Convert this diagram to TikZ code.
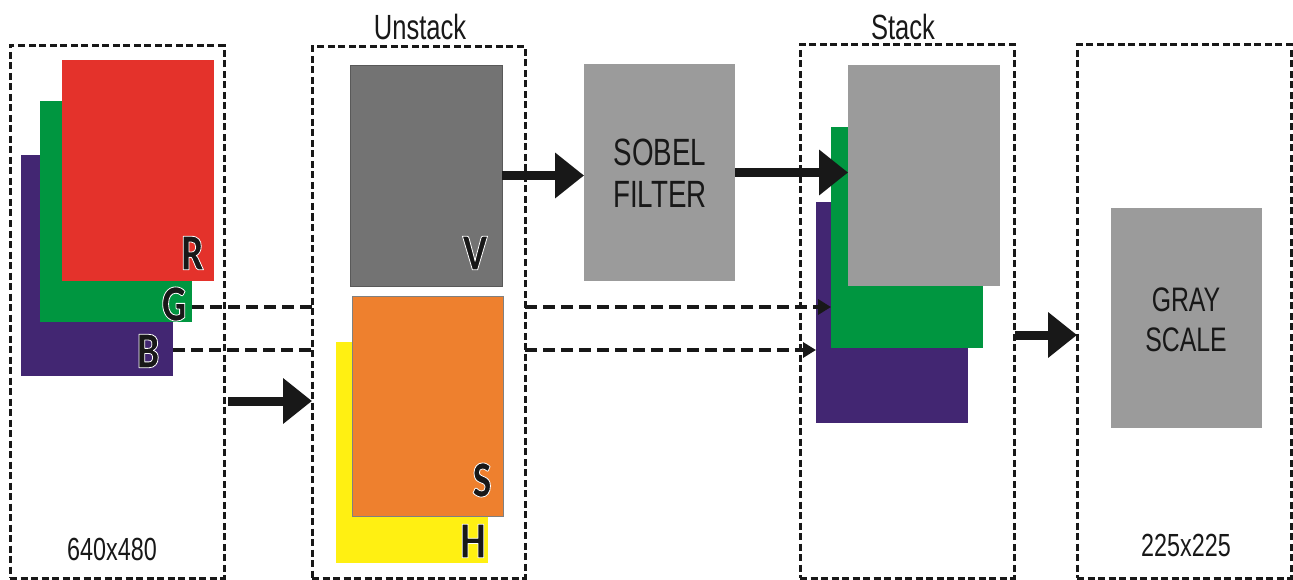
\documentclass[tikz,border=0pt]{standalone}
\usepackage{fontspec}
\setmainfont{Liberation Sans}
\newfontfamily\narrowfont[FakeStretch=0.73]{Liberation Sans}
\newfontfamily\letterfont[FakeStretch=0.74]{Lato Black}
\usetikzlibrary{arrows.meta}

\definecolor{chred}{RGB}{228,50,43}
\definecolor{chgreen}{RGB}{0,150,64}
\definecolor{chblue}{RGB}{66,38,114}
\definecolor{vgray}{RGB}{115,115,115}
\definecolor{lgray}{RGB}{155,155,155}
\definecolor{sorange}{RGB}{238,128,46}
\definecolor{hyellow}{RGB}{255,240,18}
\definecolor{ink}{RGB}{24,24,24}

% filled glyph stroked with a thin white contour (text render mode 2)
\newcommand\rimmed[1]{%
  \special{pdf:literal direct q 1 1 1 RG 0.8 w 1 j 2 Tr}#1\special{pdf:literal direct Q}}

\begin{document}
\begin{tikzpicture}[x=1pt,y=-1pt,
  plane/.style={rectangle, inner sep=0pt, outer sep=0pt, anchor=north west,
    minimum width=152pt, minimum height=221pt},
  frame/.style={rectangle, draw=ink, line width=3pt, dash pattern=on 7pt off 3.5pt,
    inner sep=0pt, outer sep=0pt, anchor=north west, minimum width=214pt, minimum height=532pt},
  caption/.style={font=\narrowfont\fontsize{35}{40}\selectfont, text=ink, inner sep=0pt},
  boxtext/.style={font=\narrowfont\fontsize{38}{42}\selectfont, text=ink, inner sep=0pt, align=center},
  sizetext/.style={font=\narrowfont\fontsize{32}{36}\selectfont, text=ink, inner sep=0pt},
  letter/.style={font=\letterfont\fontsize{46}{46}\selectfont, text=ink, inner sep=0pt},
  bigarrow/.style={draw=ink, line width=9pt, -{Triangle[length=29pt,width=44pt]}},
  dashline/.style={draw=ink, line width=3.5pt, dash pattern=on 12pt off 6pt},
  dasharrow/.style={dashline, -{Triangle[length=13pt,width=15pt]}}
]
\useasboundingbox (0,0) rectangle (1293,580);

% dashed stage frames
\node[frame] (inframe) at (10,46) {};
\node[frame, minimum width=213pt, minimum height=531pt] (unstackframe) at (312,47) {};
\node[frame, minimum height=533pt] (stackframe) at (800,45) {};
\node[frame, minimum height=533pt] (outframe) at (1077,45) {};

% stage titles
\node[caption] (unstacktitle) at (420,27) {Unstack};
\node[caption] (stacktitle) at (903,27) {Stack};

% RGB input planes
\node[plane, fill=chblue] (lb) at (21,155) {};
\node[plane, fill=chgreen] (lg) at (40,101) {};
\node[plane, fill=chred] (lr) at (62,60) {};
\node[sizetext] (insize) at (112,549) {640x480};

% HSV planes
\node[plane, fill=vgray, draw=black!65, line width=0.6pt] (vplane) at (350,65) {};
\node[plane, fill=hyellow] (hplane) at (336,342) {};
\node[plane, fill=sorange, draw=black!50, line width=0.6pt, minimum width=151pt, minimum height=220pt] (splane) at (352,296) {};

% edge filter
\node[plane, fill=lgray, minimum width=151pt, minimum height=217pt] (sobel) at (584,64) {};
\node[boxtext] (sobeltext) at (660,173) {SOBEL\\FILTER};

% restacked planes
\node[plane, fill=chblue] (sb) at (816,202) {};
\node[plane, fill=chgreen] (sg) at (831,127) {};
\node[plane, fill=lgray] (sgr) at (848,65) {};

% output
\node[plane, fill=lgray, minimum width=151pt, minimum height=220pt] (gray) at (1111,208) {};
\node[boxtext, font=\narrowfont\fontsize{34}{40}\selectfont] (graytext) at (1186,320) {GRAY\\SCALE};
\node[sizetext] (outsize) at (1186,545) {225x225};

% connectors
\coordinate (a1) at (228,401);
\draw[bigarrow] (a1) -- (a1 -| unstackframe.west);
\draw[bigarrow] (vplane.east) -- (vplane.east -| sobel.west);
\draw[bigarrow] (sobel.east) -- (sobel.east -| sgr.west);
\coordinate (a4) at (1015,335);
\draw[bigarrow] (a4) -- (a4 -| outframe.west);

\coordinate (gl) at (192,307);
\draw[dashline] (gl) -- (gl -| unstackframe.west);
\draw[dasharrow] (gl -| unstackframe.east) -- (gl -| sg.west);
\coordinate (bl) at (173,350);
\draw[dashline] (bl) -- (bl -| unstackframe.west);
\draw[dasharrow] (bl -| unstackframe.east) -- (bl -| sb.west);

% channel letters
\node[letter] (rl) at (192,253) {\rimmed{R}};
\node[letter] (gl2) at (174,304) {\rimmed{G}};
\node[letter] (bl2) at (148,351) {\rimmed{B}};
\node[letter] (vl) at (475,253) {\rimmed{V}};
\node[letter] (sl) at (482,480) {\rimmed{S}};
\node[letter] (hl) at (473,541) {\rimmed{H}};
\end{tikzpicture}
\end{document}
